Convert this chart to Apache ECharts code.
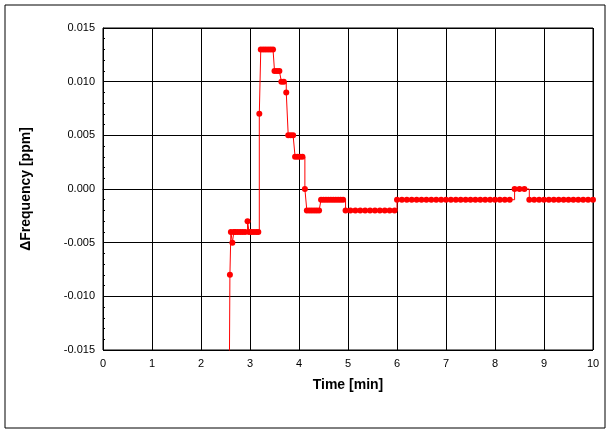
<!DOCTYPE html><html><head><meta charset="utf-8">
<script src="https://cdn.jsdelivr.net/npm/echarts@6/dist/echarts.min.js"></script>
<style>html,body{margin:0;padding:0;background:#fff}#c{width:611px;height:434px}</style></head><body><div id="c"></div><script>
const times=[2.58,2.59,2.61,2.64,2.67,2.70,2.75,2.80,2.85,2.90,2.95,2.98,3.03,3.08,3.13,3.17,3.19,3.22,3.27,3.32,3.37,3.42,3.47,3.50,3.55,3.60,3.64,3.69,3.74,3.78,3.83,3.88,3.92,3.97,4.02,4.07,4.12,4.16,4.21,4.26,4.31,4.36,4.41,4.45,4.50,4.55,4.60,4.65,4.70,4.75,4.80,4.85,4.90,4.95,5.05,5.15,5.25,5.35,5.45,5.55,5.65,5.75,5.85,5.95,6.0,6.1,6.2,6.3,6.4,6.5,6.6,6.7,6.8,6.9,7.0,7.1,7.2,7.3,7.4,7.5,7.6,7.7,7.8,7.9,8.0,8.1,8.2,8.3,8.4,8.5,8.6,8.7,8.8,8.9,9.0,9.1,9.2,9.3,9.4,9.5,9.6,9.7,9.8,9.9,10.0];
const values=[-0.016,-0.008,-0.004,-0.005,-0.004,-0.004,-0.004,-0.004,-0.004,-0.004,-0.003,-0.004,-0.004,-0.004,-0.004,-0.004,0.007,0.013,0.013,0.013,0.013,0.013,0.013,0.011,0.011,0.011,0.010,0.010,0.009,0.005,0.005,0.005,0.003,0.003,0.003,0.003,0.000,-0.002,-0.002,-0.002,-0.002,-0.002,-0.002,-0.001,-0.001,-0.001,-0.001,-0.001,-0.001,-0.001,-0.001,-0.001,-0.001,-0.002,-0.002,-0.002,-0.002,-0.002,-0.002,-0.002,-0.002,-0.002,-0.002,-0.002,-0.001,-0.001,-0.001,-0.001,-0.001,-0.001,-0.001,-0.001,-0.001,-0.001,-0.001,-0.001,-0.001,-0.001,-0.001,-0.001,-0.001,-0.001,-0.001,-0.001,-0.001,-0.001,-0.001,-0.001,0.000,0.000,0.000,-0.001,-0.001,-0.001,-0.001,-0.001,-0.001,-0.001,-0.001,-0.001,-0.001,-0.001,-0.001,-0.001,-0.001];
const data=times.map((t,i)=>[t,values[i]]);
const ch=echarts.init(document.getElementById('c'));
const ax={color:'#000',fontSize:11,fontFamily:'sans-serif'};
ch.setOption({animation:false,
graphic:[{type:'rect',shape:{x:5,y:5,width:600,height:423},style:{fill:'none',stroke:'#000',lineWidth:1}}],
grid:{left:103,right:18,top:28,bottom:84,show:true,borderColor:'#000',borderWidth:1},
xAxis:{type:'value',min:0,max:10,interval:1,name:'Time [min]',nameLocation:'middle',nameGap:28,
nameTextStyle:{fontWeight:'bold',fontSize:14,color:'#000'},axisLabel:ax,axisLine:{lineStyle:{color:'#000'}},
axisTick:{show:false},splitLine:{lineStyle:{color:'#000'}}},
yAxis:{type:'value',min:-0.015,max:0.015,interval:0.005,name:'ΔFrequency [ppm]',nameLocation:'middle',nameGap:70,
nameTextStyle:{fontWeight:'bold',fontSize:14,color:'#000'},axisLabel:Object.assign({formatter:v=>v.toFixed(3)},ax),
axisLine:{lineStyle:{color:'#000'}},axisTick:{show:true,inside:true,length:3,lineStyle:{color:'#000'}},
minorTick:{show:true,splitNumber:5,length:2,lineStyle:{color:'#000'}},splitLine:{lineStyle:{color:'#000'}}},
series:[{type:'line',data:data,step:'end',clip:true,symbol:'circle',symbolSize:6,showAllSymbol:true,
itemStyle:{color:'#ff0000'},lineStyle:{color:'#ff0000',width:1}}]});
</script></body></html>
